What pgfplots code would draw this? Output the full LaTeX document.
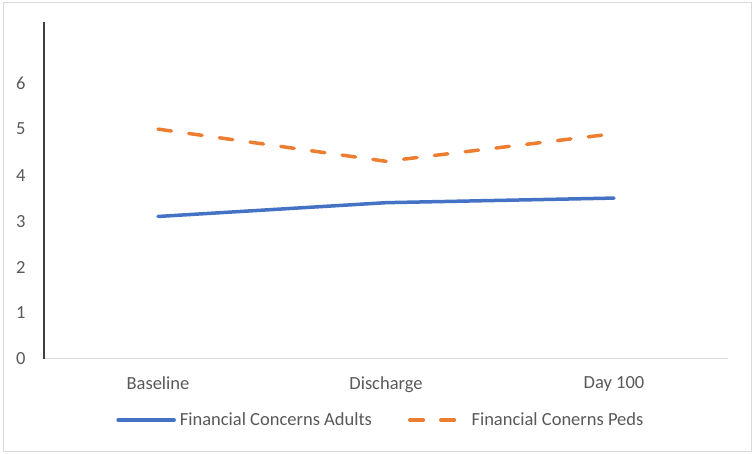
\documentclass[border=0pt]{standalone}
\usepackage{fontspec}
\setmainfont{Carlito}
\usepackage{pgfplots}
\pgfplotsset{compat=1.18}
\definecolor{txt}{HTML}{595959}
\definecolor{cblue}{HTML}{4472C4}
\definecolor{corange}{HTML}{ED7D31}
\definecolor{frame}{HTML}{D9D9D9}
\definecolor{yax}{HTML}{404040}
\begin{document}
\begin{tikzpicture}
\path[use as bounding box] (0pt,0pt) rectangle (755pt,454pt);
\draw[frame, line width=1pt] (3pt,2.5pt) rectangle (751.5pt,451.5pt);
\begin{axis}[
  at={(44pt,95pt)}, anchor=south west,
  scale only axis, width=684pt, height=337pt,
  xmin=-0.5, xmax=2.5, ymin=0, ymax=7.33,
  axis x line=bottom, axis y line=left,
  x axis line style={-, draw=frame, line width=1pt},
  y axis line style={-, draw=yax, line width=1.3pt},
  xtick={0,1,2}, xticklabels={Baseline,Discharge,Day 100},
  ytick={0,1,2,3,4,5,6},
  major tick length=0pt,
  /pgf/number format/assume math mode=true,
  tick label style={font=\fontsize{18.5}{22}\selectfont, text=txt},
  yticklabel style={xshift=-15pt},
  xticklabel style={yshift=-14pt},
  legend style={at={(0.494,-0.181)}, anchor=center, draw=none,
    font=\fontsize{18.5}{22}\selectfont, text=txt,
    legend columns=2,
    nodes={inner xsep=4pt},
    /tikz/every even column/.append style={column sep=32pt}},
  legend image code/.code={\draw[#1] (0pt,0pt) -- (56pt,0pt);},
]
\addplot[cblue, line width=3.5pt, line cap=round] coordinates {(0,3.1) (1,3.4) (2,3.5)};
\addlegendentry{Financial Concerns Adults}
\addplot[corange, line width=3.5pt, line cap=round, dash pattern=on 13.5pt off 17.5pt] coordinates {(0,5.0) (1,4.3) (2,4.9)};
\addlegendentry{Financial Conerns Peds}
\end{axis}
\end{tikzpicture}
\end{document}
